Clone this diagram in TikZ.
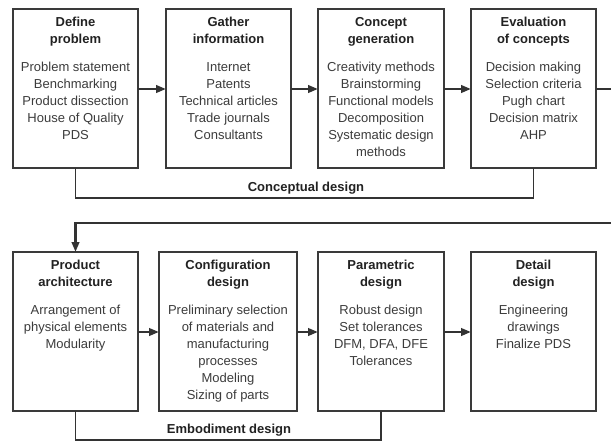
\documentclass[tikz,border=0pt]{standalone}
\usepackage{fontspec}
\setmainfont{Liberation Sans}
\usetikzlibrary{arrows.meta}
\definecolor{boxline}{HTML}{3A3A3A}
\definecolor{conn}{HTML}{333333}
\definecolor{titletxt}{HTML}{222222}
\definecolor{bodytxt}{HTML}{3C3C3C}
\newcommand{\mkboxtext}[3]{\parbox[c][159pt][t]{#1}{\centering\fontsize{13}{17}\selectfont
  \vspace*{8.5pt}{\bfseries\color{titletxt}#2\par}\vspace{11pt}{\color{bodytxt}#3\par}}}
\tikzset{
  stagebox/.style={draw=boxline, line width=1.3pt, inner sep=0pt, outer sep=0pt},
  flow/.style={draw=conn, line width=2.4pt, -{Triangle[length=10pt,width=7.5pt]}},
  bracket/.style={draw=conn, line width=1.8pt},
  phase/.style={font=\bfseries\fontsize{13}{15}\selectfont, text=titletxt, inner sep=0pt}
}
\begin{document}
\begin{tikzpicture}[x=1pt,y=-1pt]
\useasboundingbox (0,0) rectangle (611,440);
\clip (0,0) rectangle (611,440);
\fill[white] (0,0) rectangle (611,440);
% top row
\node[stagebox] (b1) at (75.5,88.5) {\mkboxtext{125pt}{Define\\problem}{Problem statement\\Benchmarking\\Product dissection\\House of Quality\\PDS}};
\node[stagebox] (b2) at (228.5,88.5) {\mkboxtext{125pt}{Gather\\information}{Internet\\Patents\\Technical articles\\Trade journals\\Consultants}};
\node[stagebox] (b3) at (381,88.5) {\mkboxtext{126pt}{Concept\\generation}{Creativity methods\\Brainstorming\\Functional models\\Decomposition\\Systematic design\\methods}};
\node[stagebox] (b4) at (533.5,88.5) {\mkboxtext{125pt}{Evaluation\\of concepts}{Decision making\\Selection criteria\\Pugh chart\\Decision matrix\\AHP}};
% bottom row
\node[stagebox] (b5) at (75.5,331.5) {\mkboxtext{125pt}{Product\\architecture}{Arrangement of\\physical elements\\Modularity}};
\node[stagebox] (b6) at (228,331.5) {\mkboxtext{138pt}{Configuration\\design}{Preliminary selection\\of materials and\\manufacturing\\processes\\Modeling\\Sizing of parts}};
\node[stagebox] (b7) at (381,331.5) {\mkboxtext{126pt}{Parametric\\design}{Robust design\\Set tolerances\\DFM, DFA, DFE\\Tolerances}};
\node[stagebox] (b8) at (533.5,331.5) {\mkboxtext{125pt}{Detail\\design}{Engineering\\drawings\\Finalize PDS}};
% coordinates
\coordinate (r1) at (611,89);
\coordinate (r2) at (611,223);
\coordinate (cl) at (75.5,198);
\coordinate (cr) at (533.5,198);
\coordinate (el) at (75.5,440);
\coordinate (er) at (381,440);
% flow arrows
\draw[flow] (b1.east |- 0,89) -- (b2.west |- 0,89);
\draw[flow] (b2.east |- 0,89) -- (b3.west |- 0,89);
\draw[flow] (b3.east |- 0,89) -- (b4.west |- 0,89);
\draw[draw=conn, line width=2.4pt] (b4.east |- 0,89) -- (r1);
\draw[flow] (r2) -- (b5.north |- r2) -- (b5.north);
\draw[flow] (b5.east |- 0,332) -- (b6.west |- 0,332);
\draw[flow] (b6.east |- 0,332) -- (b7.west |- 0,332);
\draw[flow] (b7.east |- 0,332) -- (b8.west |- 0,332);
% phase brackets
\draw[bracket] (b1.south) -- (cl) -- (cr) -- (b4.south);
\node[phase] (cd) at (306,188) {Conceptual design};
\draw[bracket] (b5.south) -- (el) -- (er) -- (b7.south);
\node[phase] (ed) at (229,430) {Embodiment design};
\end{tikzpicture}
\end{document}
